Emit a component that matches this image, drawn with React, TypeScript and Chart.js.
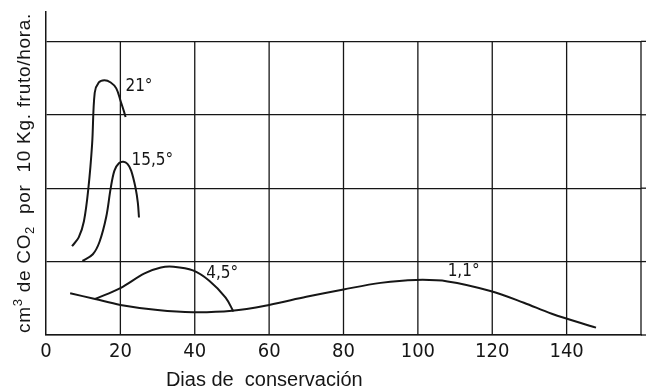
import React, { useEffect, useRef } from 'react';
import { Chart, registerables } from 'chart.js';

Chart.register(...registerables);

// ---- data ----
const gridDays = [20, 40, 60, 80, 100, 120, 140, 160];
const gridLevels = [0, 1, 2, 3, 4];

const days21 = [7.0, 8.8, 10.2, 11.4, 12.4, 13.1, 14.2, 15.7, 17.4, 18.9, 20.1, 21.0, 21.4];
const co2_21 = [1.21, 1.33, 1.55, 2.0, 2.6, 3.3, 3.44, 3.47, 3.44, 3.36, 3.18, 3.04, 2.97];

const days15 = [9.8, 12.6, 14.4, 16.2, 17.4, 18.4, 19.6, 20.8, 21.9, 22.9, 24.1, 24.7, 25.0];
const co2_15 = [1.01, 1.1, 1.27, 1.61, 2.0, 2.24, 2.34, 2.36, 2.33, 2.24, 2.0, 1.8, 1.6];

const days45 = [13.2, 20, 26.5, 30.9, 34.3, 39.5, 43.9, 48.3, 50.4];
const co2_45 = [0.49, 0.64, 0.84, 0.92, 0.93, 0.88, 0.74, 0.51, 0.32];

const days11 = [6.5, 13.2, 20, 30, 39.5, 50, 60, 70, 80, 90, 99.5, 108, 119.5, 128.5, 136, 147.9];
const co2_11 = [0.57, 0.49, 0.41, 0.34, 0.31, 0.33, 0.41, 0.52, 0.62, 0.71, 0.75, 0.73, 0.6, 0.44, 0.29, 0.1];

const curveLabels = ['21°', '15,5°', '4,5°', '1,1°'];
const curveLabelX = [25.0, 28.6, 47.4, 112.3];
const curveLabelY = [3.39, 2.37, 0.83, 0.86];

const xTitle = 'Dias de  conservación';
const xTitleAt = 58.7;

const FONT = "'Liberation Sans Narrow', 'DejaVu Sans Condensed', 'Liberation Sans', Arial, sans-serif";
const TFONT = "'Liberation Sans', Arial, sans-serif";
const INK = '#161616';

export default function App() {
  const ref = useRef<HTMLCanvasElement>(null);

  useEffect(() => {
    const canvas = ref.current;
    if (!canvas) return;
    const mk = (xs: number[], ys: number[]) => xs.map((x, i) => ({ x, y: ys[i] }));
    const line = (data: { x: number; y: number }[]) => ({
      data,
      borderColor: INK,
      borderWidth: 2,
      pointRadius: 0,
      fill: false,
      tension: 0.35,
    });

    const deco = {
      id: 'deco',
      beforeDatasetsDraw(chart: any) {
        const { ctx, scales } = chart;
        const x = scales.x, y = scales.y;
        ctx.save();
        ctx.strokeStyle = INK;
        ctx.lineWidth = 1.3;
        const y0 = y.getPixelForValue(0);
        const y4 = y.getPixelForValue(4);
        gridDays.forEach((d) => {
          const px = x.getPixelForValue(d);
          ctx.beginPath();
          ctx.moveTo(px, y0);
          ctx.lineTo(px, y4);
          ctx.stroke();
        });
        gridLevels.forEach((v) => {
          const py = y.getPixelForValue(v);
          ctx.beginPath();
          ctx.moveTo(chart.chartArea.right, py);
          ctx.lineTo(chart.width, py);
          ctx.stroke();
        });
        ctx.restore();
      },
      afterDraw(chart: any) {
        const { ctx, scales } = chart;
        const x = scales.x, y = scales.y;
        ctx.save();
        ctx.fillStyle = INK;
        ctx.textAlign = 'center';
        ctx.textBaseline = 'middle';
        ctx.font = `17px ${FONT}`;
        curveLabels.forEach((t, i) => {
          ctx.fillText(t, x.getPixelForValue(curveLabelX[i]), y.getPixelForValue(curveLabelY[i]));
        });
        // x title
        ctx.font = `20px ${TFONT}`;
        ctx.fillText(xTitle, x.getPixelForValue(xTitleAt), 380);
        // y title with super/subscripts
        const segs = [
          { t: 'cm', s: 0 },
          { t: '3', s: -1 },
          { t: ' de CO', s: 0 },
          { t: '2', s: 1 },
          { t: '  por  10 Kg. fruto/hora.', s: 0 },
        ];
        const big = `19px ${TFONT}`;
        const small = `13px ${TFONT}`;
        (ctx as any).letterSpacing = '0.7px';
        let total = 0;
        const widths = segs.map((g) => {
          ctx.font = g.s === 0 ? big : small;
          const w = ctx.measureText(g.t).width;
          total += w;
          return w;
        });
        ctx.translate(23, 173);
        ctx.rotate(-Math.PI / 2);
        ctx.textAlign = 'left';
        ctx.textBaseline = 'alphabetic';
        let cx = -total / 2;
        segs.forEach((g, i) => {
          ctx.font = g.s === 0 ? big : small;
          const dy = g.s === -1 ? -8 : g.s === 1 ? 4 : 0;
          ctx.fillText(g.t, cx, 7 + dy);
          cx += widths[i];
        });
        ctx.restore();
      },
    };

    const chart = new Chart(canvas, {
      type: 'line',
      data: {
        datasets: [
          line(mk(days21, co2_21)),
          line(mk(days15, co2_15)),
          line(mk(days45, co2_45)),
          line(mk(days11, co2_11)),
        ],
      },
      options: {
        responsive: false,
        animation: false,
        devicePixelRatio: 1,
        layout: { padding: { left: 46, right: 3, top: 12, bottom: 22 } },
        plugins: { legend: { display: false }, tooltip: { enabled: false } },
        scales: {
          x: {
            type: 'linear',
            min: 0,
            max: 160,
            ticks: {
              stepSize: 20,
              padding: 5,
              color: INK,
              font: { size: 20, family: FONT },
              maxRotation: 0,
              callback: (v: any) => (v <= 140 ? String(v) : ''),
            },
            grid: { display: false, drawTicks: false },
            border: { display: true, color: INK, width: 1.5 },
          },
          y: {
            type: 'linear',
            min: 0,
            max: 4.4,
            afterBuildTicks: (scale: any) => {
              scale.ticks = gridLevels.map((v) => ({ value: v }));
            },
            ticks: { display: false },
            grid: { display: true, color: INK, lineWidth: 1.3, drawTicks: false },
            border: { display: true, color: INK, width: 1.5 },
          },
        },
      },
      plugins: [deco],
    } as any);

    return () => chart.destroy();
  }, []);

  return (
    <div style={{ position: 'fixed', left: 0, top: 0, width: 646, height: 391, background: '#fff' }}>
      <canvas ref={ref} width={646} height={391} style={{ display: 'block' }} />
    </div>
  );
}
